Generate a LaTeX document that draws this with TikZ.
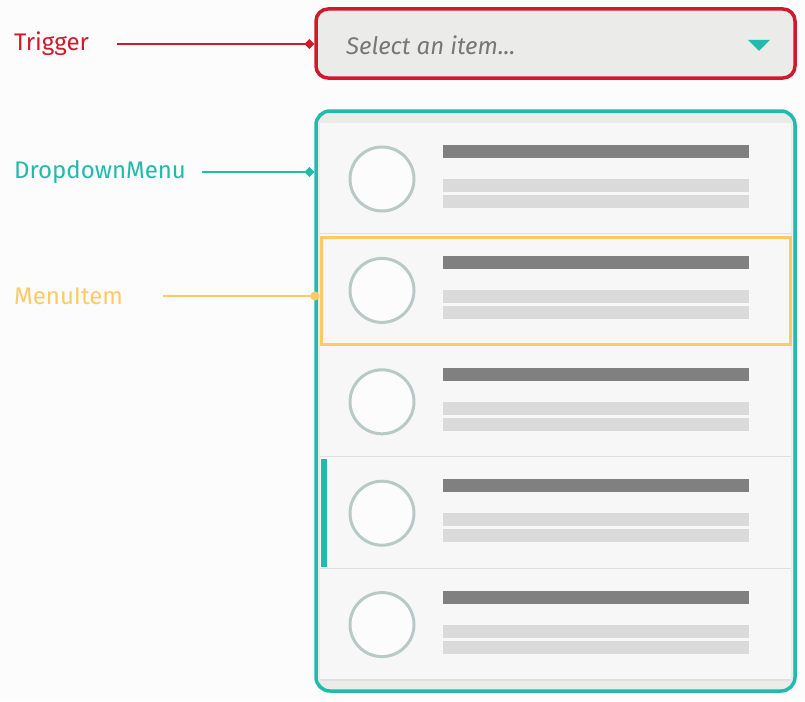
\documentclass[tikz,border=0pt]{standalone}
\usepackage{fontspec}
\setmainfont{Fira Sans}
\usetikzlibrary{arrows.meta,positioning,shapes.geometric}
\definecolor{pagebg}{HTML}{FCFCFC}
\definecolor{trigred}{HTML}{CF1A2B}
\definecolor{menuteal}{HTML}{20BBAA}
\definecolor{itemyellow}{HTML}{FFC966}
\definecolor{boxgray}{HTML}{EBEBE9}
\definecolor{itembg}{HTML}{F7F7F7}
\definecolor{sepgray}{HTML}{DFDFDF}
\definecolor{avatargray}{HTML}{B9C9C5}
\definecolor{titlegray}{HTML}{808080}
\definecolor{linegray}{HTML}{DADADA}
\definecolor{hintgray}{HTML}{777777}

\begin{document}
\begin{tikzpicture}[x=1pt,y=-1pt]
    \tikzstyle{lbl}=[anchor=west,inner sep=0pt,font=\fontsize{24}{28}\selectfont]
    \tikzstyle{pointer}=[line width=2.2pt]
    \tikzstyle{trigbox}=[rectangle,draw=trigred,line width=3.5pt,fill=boxgray,rounded corners=12pt,minimum width=479pt,minimum height=69pt]
    \tikzstyle{menubox}=[rectangle,draw=menuteal,line width=3.5pt,rounded corners=14pt,minimum width=479pt,minimum height=580pt]
    \tikzstyle{item}=[rectangle,fill=itembg,minimum width=471pt,minimum height=111.4pt,inner sep=0pt]
    \tikzstyle{sep}=[draw=sepgray,line width=2.5pt]
    \tikzstyle{avatar}=[circle,draw=avatargray,line width=3pt,fill=pagebg,minimum size=64pt,inner sep=0pt]
    \tikzstyle{hlbox}=[rectangle,draw=itemyellow,line width=3pt,minimum width=469pt,minimum height=107pt]
    \useasboundingbox[fill=pagebg] (0,0) rectangle (805,701);
    % trigger
    \node (trigger) [trigbox] at (555.5,43.5) {};
    \node (hint) [anchor=west,inner sep=0pt,text=hintgray,font=\fontsize{24}{28}\selectfont\itshape] at (346,45) {Select an item...};
    \node (caret) [isosceles triangle,shape border rotate=-90,fill=menuteal,inner sep=0pt,minimum height=11pt,minimum width=22pt,isosceles triangle stretches] at (759,44.5) {};
    % dropdown menu
    \path[fill=boxgray,rounded corners=14pt] (316,111) rectangle (795,691);
    \foreach \i in {0,...,4} {
        \pgfmathsetmacro\t{123+\i*111.4}
        \node (item\i) [item] at (555.5,\t+55.7) {};
        \draw [sep] (item\i.south west) -- (item\i.south east);
        \node (av\i) [avatar] at (382,\t+56) {};
        \fill [titlegray] (443,\t+22) rectangle (749,\t+35);
        \fill [linegray] (443,\t+56) rectangle (749,\t+69);
        \fill [linegray] (443,\t+72) rectangle (749,\t+85);
    }
    \fill [menuteal] (321,459) rectangle (327,567);
    \node (hl) [hlbox] at (555.5,290.5) {};
    \node (menu) [menubox] at (555.5,401) {};
    % labels
    \node (trig lbl) [lbl,text=trigred] at (14,44) {Trigger};
    \node (menu lbl) [lbl,text=menuteal] at (14,172) {DropdownMenu};
    \node (item lbl) [lbl,text=itemyellow] at (14,296) {MenuItem};
    \coordinate (trig start) at (117,44);
    \coordinate (menu start) at (202,172);
    \coordinate (item start) at (163,296);
    \draw [pointer,trigred,-{Diamond[length=10pt,width=10pt]}] (trig start) -- (trig start -| trigger.west);
    \draw [pointer,menuteal,-{Diamond[length=10pt,width=10pt]}] (menu start) -- (menu start -| menu.west);
    \draw [pointer,itemyellow,-{Circle[length=9pt]}] (item start) -- (item start -| hl.west);
\end{tikzpicture}
\end{document}
